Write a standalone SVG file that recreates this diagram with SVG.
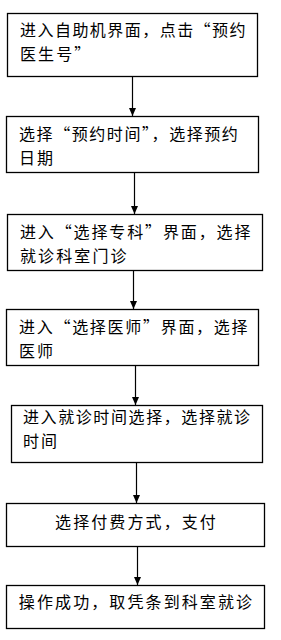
<svg xmlns="http://www.w3.org/2000/svg" width="281" height="640" viewBox="0 0 281 640">
<style>
.box{fill:#fff;stroke:#000;stroke-width:1.3}
.t{font-family:"Noto Sans CJK SC","Liberation Serif",sans-serif;font-size:16px;letter-spacing:2.1px;fill:#000}
.c{text-anchor:middle}
.ln{stroke:#000;stroke-width:1.2;fill:none}
</style>
<rect width="281" height="640" fill="#fff"/>
<g id="connectors">
<line class="ln" x1="132.5" y1="76.5" x2="132.5" y2="116"/>
<path d="M129,108 L136,108 L132.5,116 Z" fill="#000"/>
<line class="ln" x1="134.5" y1="172.5" x2="134.5" y2="214"/>
<path d="M131,206 L138,206 L134.5,214 Z" fill="#000"/>
<line class="ln" x1="133.5" y1="270.5" x2="133.5" y2="309"/>
<path d="M130,301 L137,301 L133.5,309 Z" fill="#000"/>
<line class="ln" x1="135.5" y1="365" x2="135.5" y2="405"/>
<path d="M132,397 L139,397 L135.5,405 Z" fill="#000"/>
<line class="ln" x1="136.5" y1="462.5" x2="136.5" y2="503"/>
<path d="M133,495 L140,495 L136.5,503 Z" fill="#000"/>
<line class="ln" x1="137.5" y1="546.5" x2="137.5" y2="585"/>
<path d="M134,577 L141,577 L137.5,585 Z" fill="#000"/>
</g>
<g id="n1">
<rect class="box" x="7.5" y="13.5" width="250" height="63"/>
<text class="t" x="20" y="36" style="letter-spacing:1.46px">进入自助机界面，点击“预约</text>
<text class="t" x="20" y="60">医生号”</text>
</g>
<g id="n2">
<rect class="box" x="6.5" y="116.5" width="252" height="56"/>
<text class="t" x="19" y="140" style="letter-spacing:1.57px">选择“预约时间”，选择预约</text>
<text class="t" x="19" y="164">日期</text>
</g>
<g id="n3">
<rect class="box" x="7.5" y="214.5" width="255" height="56"/>
<text class="t" x="20" y="238" style="letter-spacing:1.87px">进入“选择专科”界面，选择</text>
<text class="t" x="20" y="262">就诊科室门诊</text>
</g>
<g id="n4">
<rect class="box" x="6.5" y="309.5" width="252" height="56"/>
<text class="t" x="19" y="333" style="letter-spacing:1.71px">进入“选择医师”界面，选择</text>
<text class="t" x="19" y="357">医师</text>
</g>
<g id="n5">
<rect class="box" x="11.5" y="405.5" width="251" height="57"/>
<text class="t" x="23" y="423" style="letter-spacing:1.59px">进入就诊时间选择，选择就诊</text>
<text class="t" x="23" y="447">时间</text>
</g>
<g id="n6">
<rect class="box" x="6.5" y="503.5" width="258" height="43"/>
<text class="t c" x="136.5" y="528">选择付费方式，支付</text>
</g>
<g id="n7">
<rect class="box" x="6.5" y="585.5" width="258" height="43"/>
<text class="t c" x="136.5" y="608">操作成功，取凭条到科室就诊</text>
</g>
</svg>
